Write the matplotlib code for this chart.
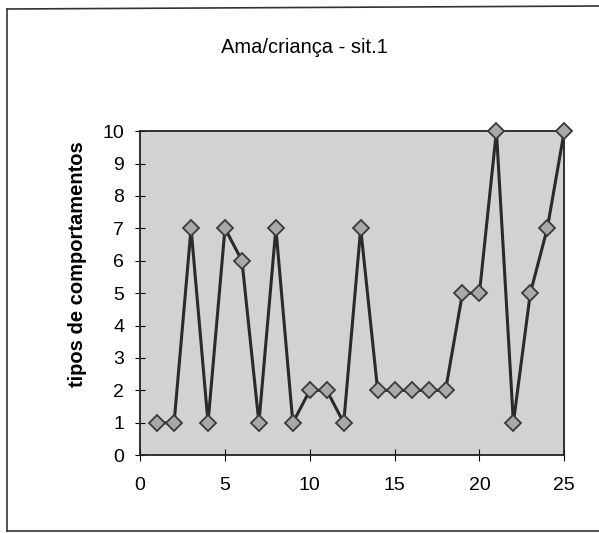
import numpy as np
import matplotlib.pyplot as plt
from matplotlib.lines import Line2D

plt.rcParams['font.family'] = ['Liberation Sans', 'DejaVu Sans']

# dados
x = list(range(1, 26))
y = [1, 1, 7, 1, 7, 6, 1, 7, 1, 2, 2, 1, 7, 2, 2, 2, 2, 2, 5, 5, 10, 1, 5, 7, 10]
titulo = 'Ama/criança - sit.1'
ylabel = 'tipos de comportamentos'

fig = plt.figure(figsize=(5.99, 5.33), dpi=100)
ax = fig.add_axes([0.234, 0.146, 0.708, 0.608])

# moldura externa (lado direito fica fora da imagem)
W, H = 599.0, 533.0
for xs, ys in [((7 / W, 1.0), (1 - 9 / H, 1 - 6 / H)),
               ((7 / W, 7 / W), (1 - 9 / H, 1 - 531 / H)),
               ((7 / W, 1.0), (1 - 531 / H, 1 - 531 / H))]:
    fig.add_artist(Line2D(xs, ys, transform=fig.transFigure,
                          color='#333333', linewidth=1.2))

ax.set_facecolor('#d2d2d2')
ax.plot(x, y, color='#2a2a2a', linewidth=2.2, marker='D', markersize=8.5,
        markerfacecolor='#a8a8a8', markeredgecolor='#3a3a3a',
        markeredgewidth=1.3, clip_on=False, zorder=3)

ax.set_xlim(0, 25)
ax.set_ylim(0, 10)
ax.set_xticks(range(0, 26, 5))
ax.set_yticks(range(0, 11))
ax.tick_params(axis='x', direction='inout', length=8, labelsize=14, pad=12)
ax.tick_params(axis='y', direction='inout', length=7, labelsize=14, pad=8)
for s in ax.spines.values():
    s.set_color('#222222')
    s.set_linewidth(1.3)

ax.set_ylabel(ylabel, fontsize=14.5, fontweight='bold')
ax.yaxis.set_label_coords(-0.126, 0.59)
fig.text(0.508, 0.91, titulo, ha='center', va='center', fontsize=14.5)

plt.savefig('out.png')
